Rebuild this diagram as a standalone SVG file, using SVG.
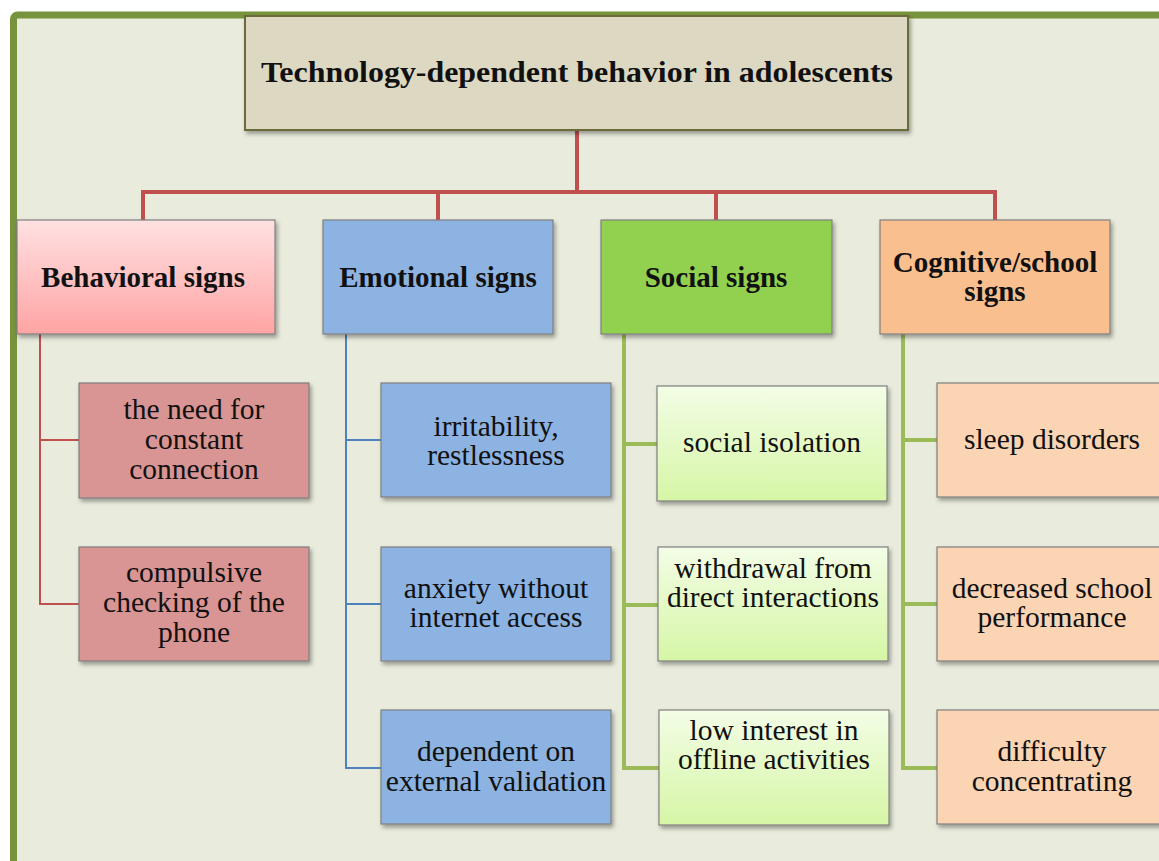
<svg xmlns="http://www.w3.org/2000/svg" width="1159" height="861" viewBox="0 0 1159 861">
<defs>
<filter id="sh" x="-10%" y="-10%" width="130%" height="140%">
<feDropShadow dx="2" dy="3" stdDeviation="2" flood-color="#000" flood-opacity="0.35"/>
</filter>
<linearGradient id="gPink" x1="0" y1="0" x2="0" y2="1">
<stop offset="0" stop-color="#ffe1e2"/><stop offset="1" stop-color="#ffa4a4"/>
</linearGradient>
<linearGradient id="gLime" x1="0" y1="0" x2="0" y2="1">
<stop offset="0" stop-color="#f3fde6"/><stop offset="1" stop-color="#d6f6a6"/>
</linearGradient>
<style>
.box{stroke:#7f7f7f;stroke-width:1.2;filter:url(#sh)}
.t{font-family:"Liberation Serif","Times New Roman",serif;font-size:29.5px;fill:#111;text-anchor:middle}
.h{font-family:"Liberation Serif","Times New Roman",serif;font-size:29px;font-weight:bold;fill:#111;text-anchor:middle}
.main{fill:none;stroke:#c0504d;stroke-width:4}
.red{fill:none;stroke:#c0504d;stroke-width:2}
.blue{fill:none;stroke:#4f81bd;stroke-width:2}
.green{fill:none;stroke:#9bbb59;stroke-width:4}
</style>
</defs>
<rect x="0" y="0" width="1159" height="861" fill="#ffffff"/>
<rect id="frame" x="13.5" y="15" width="1170" height="880" rx="4" fill="#e9ecdd" stroke="#77933c" stroke-width="7"/>

<g id="connectors">
<path class="main" d="M577 130 V192 M143 220 V192 H995 V220 M438 192 V220 M716 192 V220"/>
<path class="red" d="M40 334 V604 H79 M40 440 H79"/>
<path class="blue" d="M346 334 V768 H381 M346 440 H381 M346 604 H381"/>
<path class="green" d="M624 334 V768 H659 M624 444 H657 M624 605 H658"/>
<path class="green" d="M903 334 V768 H937 M903 440 H937 M903 604 H937"/>
</g>

<g id="title">
<rect x="245" y="16" width="663" height="114" fill="#ddd8c2" stroke="#6b6b3a" stroke-width="2" filter="url(#sh)"/>
<text class="h" x="577" y="82" font-size="34" textLength="632" lengthAdjust="spacingAndGlyphs">Technology-dependent behavior in adolescents</text>
</g>

<g id="behavioral">
<rect class="box" x="17" y="220" width="258" height="114" fill="url(#gPink)"/>
<text class="h" x="143" y="287">Behavioral signs</text>
</g>
<g id="emotional">
<rect class="box" x="323" y="220" width="230" height="114" fill="#8db3e2"/>
<text class="h" x="438" y="287">Emotional signs</text>
</g>
<g id="social">
<rect class="box" x="601" y="220" width="231" height="114" fill="#92d050"/>
<text class="h" x="716" y="287">Social signs</text>
</g>
<g id="cognitive">
<rect class="box" x="880" y="220" width="230" height="114" fill="#f9bf8f"/>
<text class="h" x="995" y="272">Cognitive/school</text>
<text class="h" x="995" y="301">signs</text>
</g>

<g id="b1">
<rect class="box" x="79" y="383" width="230" height="115" fill="#d99594"/>
<text class="t" x="194" y="419">the need for</text>
<text class="t" x="194" y="449">constant</text>
<text class="t" x="194" y="479">connection</text>
</g>
<g id="b2">
<rect class="box" x="79" y="547" width="230" height="114" fill="#d99594"/>
<text class="t" x="194" y="582">compulsive</text>
<text class="t" x="194" y="612">checking of the</text>
<text class="t" x="194" y="642">phone</text>
</g>

<g id="e1">
<rect class="box" x="381" y="383" width="230" height="114" fill="#8db3e2"/>
<text class="t" x="496" y="436">irritability,</text>
<text class="t" x="496" y="465">restlessness</text>
</g>
<g id="e2">
<rect class="box" x="381" y="547" width="230" height="114" fill="#8db3e2"/>
<text class="t" x="496" y="598">anxiety without</text>
<text class="t" x="496" y="627">internet access</text>
</g>
<g id="e3">
<rect class="box" x="381" y="710" width="230" height="114" fill="#8db3e2"/>
<text class="t" x="496" y="761">dependent on</text>
<text class="t" x="496" y="791">external validation</text>
</g>

<g id="s1">
<rect class="box" x="657" y="386" width="230" height="115" fill="url(#gLime)"/>
<text class="t" x="772" y="452">social isolation</text>
</g>
<g id="s2">
<rect class="box" x="658" y="547" width="230" height="114" fill="url(#gLime)"/>
<text class="t" x="773" y="578">withdrawal from</text>
<text class="t" x="773" y="607">direct interactions</text>
</g>
<g id="s3">
<rect class="box" x="659" y="710" width="230" height="115" fill="url(#gLime)"/>
<text class="t" x="774" y="740">low interest in</text>
<text class="t" x="774" y="769">offline activities</text>
</g>

<g id="c1">
<rect class="box" x="937" y="383" width="230" height="114" fill="#fbd4b4"/>
<text class="t" x="1052" y="449">sleep disorders</text>
</g>
<g id="c2">
<rect class="box" x="937" y="547" width="230" height="114" fill="#fbd4b4"/>
<text class="t" x="1052" y="598">decreased school</text>
<text class="t" x="1052" y="627">performance</text>
</g>
<g id="c3">
<rect class="box" x="937" y="710" width="230" height="114" fill="#fbd4b4"/>
<text class="t" x="1052" y="761">difficulty</text>
<text class="t" x="1052" y="791">concentrating</text>
</g>
</svg>
